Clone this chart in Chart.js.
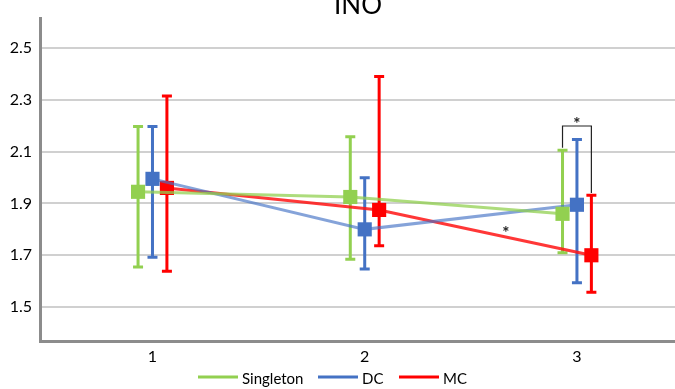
<!DOCTYPE html>
<html>
<head>
<meta charset="utf-8">
<script src="https://cdn.jsdelivr.net/npm/chart.js@4.4.1/dist/chart.umd.min.js"></script>
<style>
  html, body { margin: 0; padding: 0; background: #fff; overflow: hidden; }
  #wrap { width: 675px; height: 389px; position: relative; }
</style>
</head>
<body>
<div id="wrap"><canvas id="chart"></canvas></div>
<script>
// time points on the x axis
const groups = [1, 2, 3];
const yTicks = [1.5, 1.7, 1.9, 2.1, 2.3, 2.5];

// mean values per group
const singletonMean = [1.945, 1.925, 1.86];
const dcMean = [1.995, 1.80, 1.895];
const mcMean = [1.96, 1.875, 1.70];

// error bar ends
const singletonLow = [1.655, 1.685, 1.71];
const singletonHigh = [2.197, 2.158, 2.105];
const dcLow = [1.692, 1.647, 1.594];
const dcHigh = [2.197, 1.999, 2.147];
const mcLow = [1.638, 1.737, 1.557];
const mcHigh = [2.315, 2.39, 1.932];

const FONT = "Lato, 'Open Sans', sans-serif";
const shift = 0.068; // side-by-side offset of the three series

function pts(means, off) {
  return groups.map((g, i) => ({ x: g + off, y: means[i] }));
}

const series = [
  { label: "Singleton", mean: singletonMean, low: singletonLow, high: singletonHigh, off: -shift, color: "#92D050", line: "rgba(146,208,80,0.75)" },
  { label: "DC", mean: dcMean, low: dcLow, high: dcHigh, off: 0, color: "#4472C4", line: "rgba(68,114,196,0.65)" },
  { label: "MC", mean: mcMean, low: mcLow, high: mcHigh, off: shift, color: "#FF0000", line: "rgba(255,20,20,0.85)" }
];

// error bars drawn under the markers
const errorBars = {
  id: "errorBars",
  beforeDatasetsDraw(chart) {
    const { ctx, scales: { x, y } } = chart;
    ctx.save();
    series.forEach(s => {
      ctx.strokeStyle = s.color;
      ctx.lineWidth = 3;
      groups.forEach((g, i) => {
        const px = x.getPixelForValue(g + s.off);
        const top = y.getPixelForValue(s.high[i]);
        const bot = y.getPixelForValue(s.low[i]);
        ctx.beginPath();
        ctx.moveTo(px, top);
        ctx.lineTo(px, bot);
        ctx.moveTo(px - 5, top);
        ctx.lineTo(px + 5, top);
        ctx.moveTo(px - 5, bot);
        ctx.lineTo(px + 5, bot);
        ctx.stroke();
      });
    });
    ctx.restore();
  }
};

// title, significance marks and legend
const extras = {
  id: "extras",
  afterDraw(chart) {
    const { ctx, scales: { x, y } } = chart;
    ctx.save();

    ctx.fillStyle = "#000";
    ctx.font = "26px " + FONT;
    ctx.textAlign = "center";
    ctx.textBaseline = "alphabetic";
    ctx.fillText("INO", 358, 14);

    // bracket between Singleton and MC at time 3
    const xl = x.getPixelForValue(3 - shift);
    const xr = x.getPixelForValue(3 + shift);
    const yt = y.getPixelForValue(2.199);
    ctx.strokeStyle = "#222";
    ctx.lineWidth = 1.2;
    ctx.beginPath();
    ctx.moveTo(xl, y.getPixelForValue(2.115));
    ctx.lineTo(xl, yt);
    ctx.lineTo(xr, yt);
    ctx.lineTo(xr, y.getPixelForValue(1.94));
    ctx.stroke();

    ctx.font = "bold 17px " + FONT;
    ctx.fillStyle = "#222";
    ctx.textBaseline = "middle";
    ctx.fillText("*", x.getPixelForValue(3), yt - 1);
    ctx.fillText("*", x.getPixelForValue(2.665), y.getPixelForValue(1.785));

    // legend
    ctx.font = "15px " + FONT;
    ctx.textAlign = "left";
    ctx.textBaseline = "middle";
    const ly = 379;
    const legendX = [198, 318, 399];
    series.forEach((s, i) => {
      ctx.strokeStyle = s.color;
      ctx.lineWidth = 3;
      ctx.beginPath();
      ctx.moveTo(legendX[i], ly - 2);
      ctx.lineTo(legendX[i] + 40, ly - 2);
      ctx.stroke();
      ctx.fillStyle = "#000";
      ctx.fillText(s.label, legendX[i] + 44, ly);
    });
    ctx.restore();
  }
};

new Chart(document.getElementById("chart"), {
  type: "line",
  data: {
    datasets: series.map(s => ({
      label: s.label,
      data: pts(s.mean, s.off),
      borderColor: s.line,
      borderWidth: 3,
      backgroundColor: s.color,
      pointBackgroundColor: s.color,
      pointBorderColor: s.color,
      pointStyle: "rect",
      pointRadius: 10,
      pointBorderWidth: 0,
      tension: 0
    }))
  },
  options: {
    responsive: true,
    maintainAspectRatio: false,
    animation: false,
    layout: { autoPadding: false, padding: { top: 18, right: 0, left: 0, bottom: 0 } },
    plugins: {
      legend: { display: false },
      tooltip: { enabled: false }
    },
    scales: {
      x: {
        type: "linear",
        min: 0.47,
        max: 3.462,
        afterBuildTicks: sc => { sc.ticks = groups.map(v => ({ value: v })); },
        afterFit: sc => { sc.height = 48; },
        grid: { display: false, drawTicks: false },
        border: { color: "#8c8c8c", width: 3 },
        ticks: {
          font: { family: FONT, size: 16 },
          color: "#000",
          padding: 6,
          maxRotation: 0
        }
      },
      y: {
        min: 1.369,
        max: 2.616,
        afterBuildTicks: sc => { sc.ticks = yTicks.map(v => ({ value: v })); },
        afterFit: sc => { sc.width = 40; },
        grid: { color: "#d0d0d0", lineWidth: 2, drawTicks: false },
        border: { color: "#8c8c8c", width: 3 },
        ticks: {
          font: { family: FONT, size: 16 },
          color: "#000",
          padding: 8,
          callback: v => v.toFixed(1)
        }
      }
    }
  },
  plugins: [errorBars, extras]
});
</script>
</body>
</html>
